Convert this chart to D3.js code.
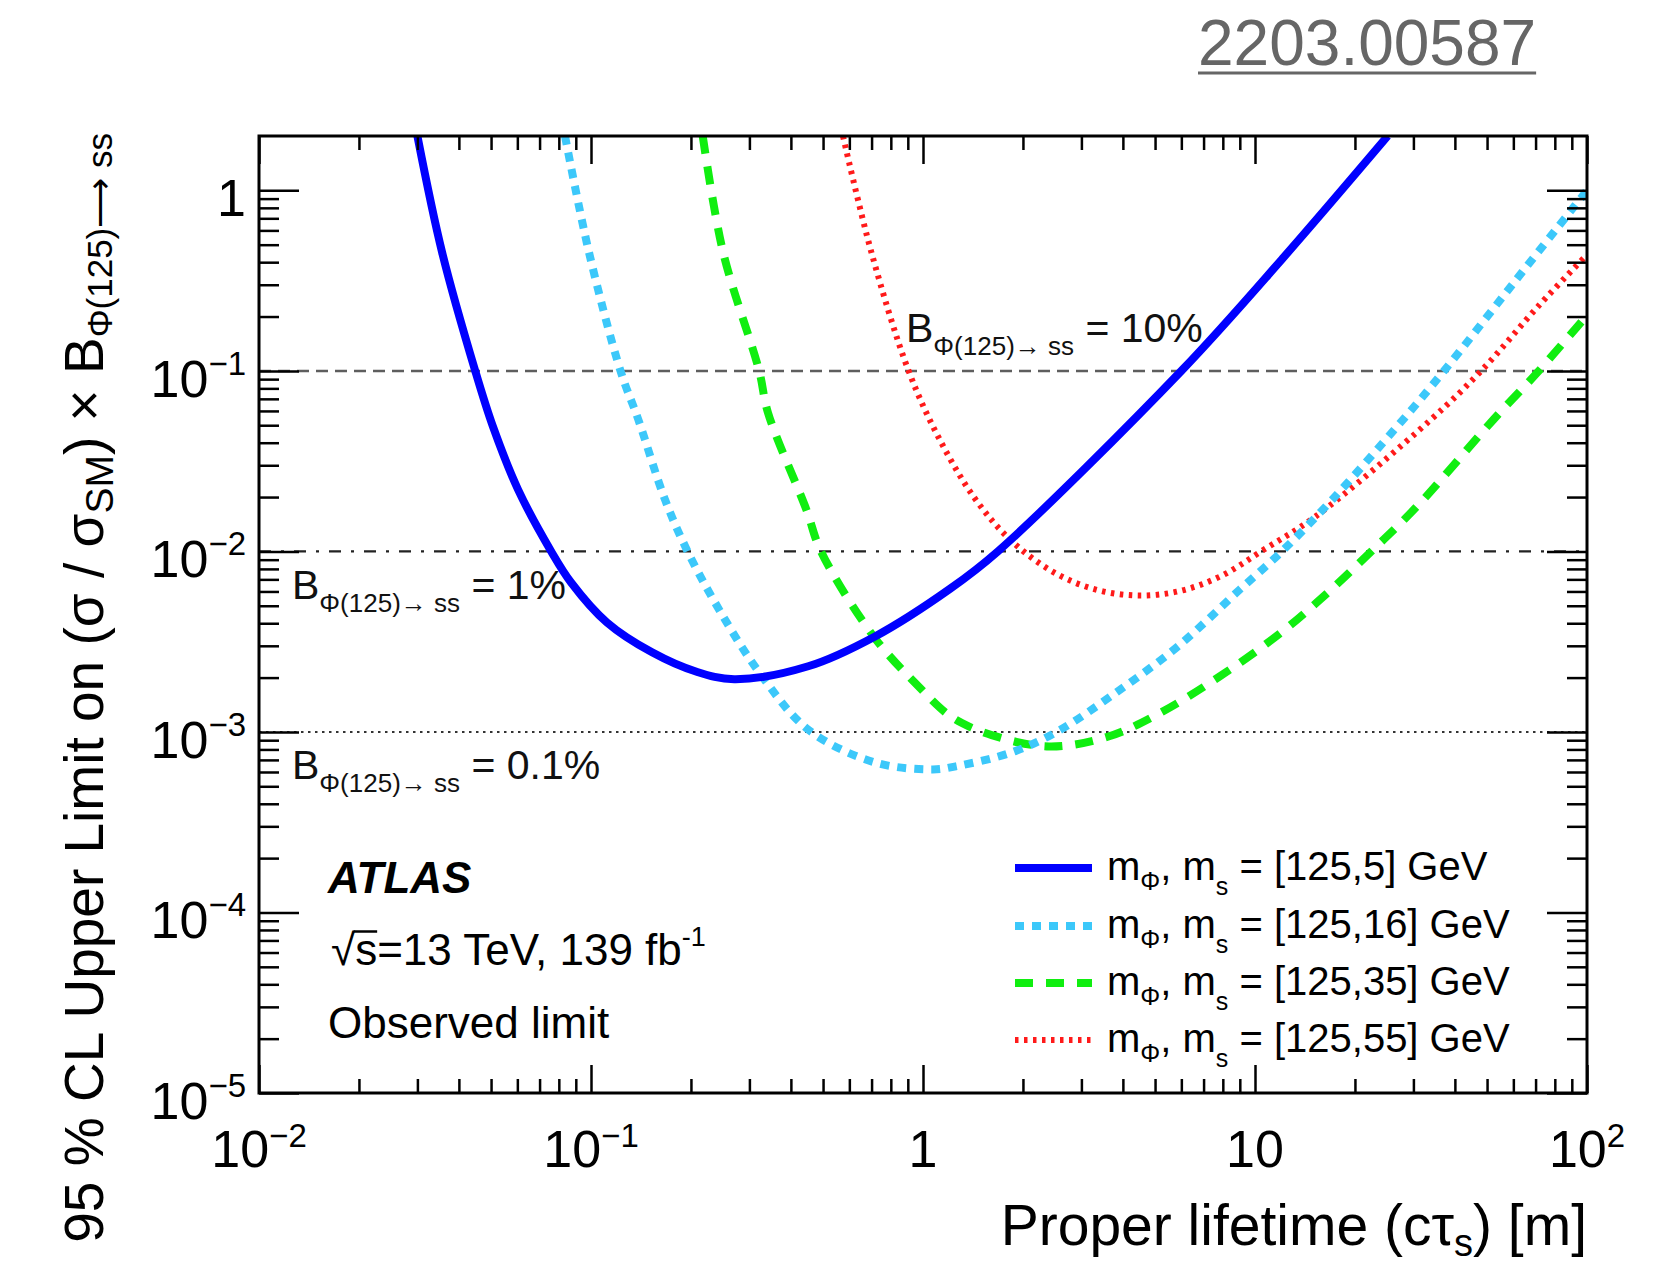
<!DOCTYPE html>
<html>
<head>
<meta charset="utf-8">
<script src="https://cdn.jsdelivr.net/npm/d3@7"></script>
<style>
  body { margin: 0; background: #fff; }
  svg { display: block; font-family: "Liberation Sans", Arial, Helvetica, sans-serif; }
</style>
</head>
<body>
<div id="viz"></div>
<script>
// Canvas and frame geometry
const width = 1680;
const height = 1263;
const frame = {left: 259, right: 1587, top: 136, bottom: 1093};

// Axis ranges and tick labels
const xDomain = [0.01, 100];
const yDomain = [1e-5, 2];
const xMajorTicks = [0.01, 0.1, 1, 10, 100];
const xTickBase = ["10", "10", "1", "10", "10"];
const xTickExp = ["\u22122", "\u22121", "", "", "2"];
const yMajorTicks = [1e-5, 1e-4, 1e-3, 1e-2, 1e-1, 1];
const yTickBase = ["10", "10", "10", "10", "10", "1"];
const yTickExp = ["\u22125", "\u22124", "\u22123", "\u22122", "\u22121", ""];

// Observed limits (x = c*tau in m)
const blueX = [0.0300, 0.0356, 0.0448, 0.0507, 0.0603, 0.0759, 0.0871, 0.1117, 0.1527, 0.207, 0.27, 0.451, 0.717, 1.205, 1.68, 6.0, 12.05, 25.1];
const blueY = [2.0, 0.454, 0.100, 0.0489, 0.0220, 0.0100, 0.00673, 0.00404, 0.00276, 0.00216, 0.00196, 0.00231, 0.00338, 0.0062, 0.0100, 0.100, 0.415, 2.0];

const cyanX = [0.0835, 0.0986, 0.1227, 0.1388, 0.167, 0.1954, 0.243, 0.321, 0.451, 0.716, 1.07, 1.256, 1.85, 2.55, 3.81, 5.86, 9.01, 12.05, 17.1, 27.0, 37.1, 60.3, 100];
const cyanY = [2.0, 0.454, 0.100, 0.0538, 0.0194, 0.0100, 0.00477, 0.00214, 0.00103, 0.000678, 0.00062, 0.000645, 0.00077, 0.00101, 0.00165, 0.00298, 0.00616, 0.0100, 0.0194, 0.0500, 0.100, 0.309, 1.0];

const greenX = [0.217, 0.250, 0.321, 0.341, 0.445, 0.493, 0.717, 0.98, 1.17, 1.31, 1.61, 2.40, 3.60, 5.08, 7.83, 12.0, 16.6, 22.4, 30.8, 52.3, 71.6, 90.2, 97];
const greenY = [2.0, 0.454, 0.100, 0.0589, 0.0171, 0.0100, 0.0033, 0.00175, 0.00128, 0.00112, 0.00096, 0.00083, 0.00094, 0.00125, 0.00203, 0.00356, 0.00593, 0.0100, 0.0178, 0.0538, 0.100, 0.163, 0.19];

const redX = [0.574, 0.70, 0.905, 1.12, 1.44, 1.85, 2.48, 3.30, 4.40, 5.86, 7.85, 10.7, 15.2, 33.9, 48, 71.6, 100];
const redY = [2.0, 0.45, 0.100, 0.042, 0.0194, 0.0114, 0.00765, 0.00616, 0.0057, 0.0060, 0.00726, 0.0103, 0.0156, 0.0538, 0.100, 0.23, 0.44];

const seriesMasses = ["5", "16", "35", "55"];

// Branching-ratio reference lines
const brLevels = [0.1, 0.01, 0.001];
const brLabels = ["10%", "1%", "0.1%"];

// Styles
const seriesStyle = [
  {color: "#0000ff", width: 8, dash: null},
  {color: "#3cc8fa", width: 8, dash: "9,8"},
  {color: "#10ee10", width: 8, dash: "18,13"},
  {color: "#ff1a1a", width: 6, dash: "3.5,5.5"}
];
const brStyle = [
  {color: "#5e5e5e", width: 2.5, dash: "12,7"},
  {color: "#222", width: 2.2, dash: "12,10,3,10"},
  {color: "#333", width: 2, dash: "2.5,4.5"}
];

const svg = d3.select("#viz").append("svg")
  .attr("width", width)
  .attr("height", height);

const x = d3.scaleLog().domain(xDomain).range([frame.left, frame.right]);
const y = d3.scaleLog().domain(yDomain).range([frame.bottom, frame.top]);

svg.append("clipPath").attr("id", "plotClip")
  .append("rect")
  .attr("x", frame.left).attr("y", frame.top)
  .attr("width", frame.right - frame.left)
  .attr("height", frame.bottom - frame.top);

// Reference lines
brLevels.forEach((lev, i) => {
  svg.append("line")
    .attr("x1", frame.left).attr("x2", frame.right)
    .attr("y1", y(lev)).attr("y2", y(lev))
    .attr("stroke", brStyle[i].color)
    .attr("stroke-width", brStyle[i].width)
    .attr("stroke-dasharray", brStyle[i].dash);
});

// Curves
const lineGen = d3.line()
  .x(d => x(d[0]))
  .y(d => y(d[1]))
  .curve(d3.curveCatmullRom.alpha(0.5));

const seriesData = [
  d3.zip(blueX, blueY),
  d3.zip(cyanX, cyanY),
  d3.zip(greenX, greenY),
  d3.zip(redX, redY)
];

const curves = svg.append("g").attr("clip-path", "url(#plotClip)");
// red first, blue last (on top)
[3, 2, 1, 0].forEach(i => {
  curves.append("path")
    .attr("d", lineGen(seriesData[i]))
    .attr("fill", "none")
    .attr("stroke", seriesStyle[i].color)
    .attr("stroke-width", seriesStyle[i].width)
    .attr("stroke-dasharray", seriesStyle[i].dash);
});

// Ticks on all four sides
const xMinor = [];
const yMinor = [];
[-2, -1, 0, 1].forEach(e => { for (let k = 2; k <= 9; k++) xMinor.push(k * Math.pow(10, e)); });
[-5, -4, -3, -2, -1].forEach(e => { for (let k = 2; k <= 9; k++) yMinor.push(k * Math.pow(10, e)); });

function tickAxis(axisFn, scale, values, size, transform) {
  const g = svg.append("g")
    .attr("transform", transform)
    .call(axisFn(scale).tickValues(values).tickSize(size).tickFormat(""));
  g.select(".domain").remove();
  g.selectAll(".tick line").attr("stroke", "#000").attr("stroke-width", 2.5);
}
const xMajorLen = 28, xMinorLen = 14, yMajorLen = 40, yMinorLen = 20;
tickAxis(d3.axisTop, x, xMajorTicks, xMajorLen, `translate(0,${frame.bottom})`);
tickAxis(d3.axisTop, x, xMinor, xMinorLen, `translate(0,${frame.bottom})`);
tickAxis(d3.axisBottom, x, xMajorTicks, xMajorLen, `translate(0,${frame.top})`);
tickAxis(d3.axisBottom, x, xMinor, xMinorLen, `translate(0,${frame.top})`);
tickAxis(d3.axisRight, y, yMajorTicks, yMajorLen, `translate(${frame.left},0)`);
tickAxis(d3.axisRight, y, yMinor, yMinorLen, `translate(${frame.left},0)`);
tickAxis(d3.axisLeft, y, yMajorTicks, yMajorLen, `translate(${frame.right},0)`);
tickAxis(d3.axisLeft, y, yMinor, yMinorLen, `translate(${frame.right},0)`);

// Frame
svg.append("rect")
  .attr("x", frame.left).attr("y", frame.top)
  .attr("width", frame.right - frame.left)
  .attr("height", frame.bottom - frame.top)
  .attr("fill", "none")
  .attr("stroke", "#000")
  .attr("stroke-width", 3);

// Tick labels
const labelSize = 52, expSize = 33;
xMajorTicks.forEach((v, i) => {
  const t = svg.append("text")
    .attr("x", x(v)).attr("y", 1167)
    .attr("text-anchor", "middle")
    .attr("font-size", labelSize);
  t.append("tspan").text(xTickBase[i]);
  if (xTickExp[i]) t.append("tspan").attr("font-size", expSize).attr("dy", -20).text(xTickExp[i]);
});
yMajorTicks.forEach((v, i) => {
  const t = svg.append("text")
    .attr("x", 246).attr("y", y(v) + 26)
    .attr("text-anchor", "end")
    .attr("font-size", labelSize);
  t.append("tspan").text(yTickBase[i]);
  if (yTickExp[i]) t.append("tspan").attr("font-size", expSize).attr("dy", -22).text(yTickExp[i]);
});

// Axis titles
const xt = svg.append("text")
  .attr("x", frame.right).attr("y", 1245)
  .attr("text-anchor", "end")
  .attr("font-size", 57);
xt.append("tspan").text("Proper lifetime (c\u03c4");
xt.append("tspan").attr("font-size", 38).attr("dy", 11).text("s");
xt.append("tspan").attr("dy", -11).text(") [m]");

const yt = svg.append("text")
  .attr("transform", `translate(103,133) rotate(-90)`)
  .attr("text-anchor", "end")
  .attr("font-size", 55);
yt.append("tspan").text("95 % CL Upper Limit on (\u03c3 / \u03c3");
yt.append("tspan").attr("font-size", 39).attr("dy", 10).text("SM");
yt.append("tspan").attr("dy", -10).text(") \u00d7 B");
yt.append("tspan").attr("font-size", 35).attr("dy", 9).text("\u03a6(125)\u27f6 ss");

// Branching ratio labels
const brPos = [[906, 342], [292, 599], [292, 779]];
brLevels.forEach((lev, i) => {
  const t = svg.append("text")
    .attr("x", brPos[i][0]).attr("y", brPos[i][1])
    .attr("font-size", 41)
    .attr("fill", "#111");
  t.append("tspan").text("B");
  t.append("tspan").attr("font-size", 26).attr("dy", 13).text("\u03a6(125)\u2192 ss");
  t.append("tspan").attr("dy", -13).text(" = " + brLabels[i]);
});

// ATLAS label block
svg.append("text")
  .attr("x", 328).attr("y", 893)
  .attr("font-size", 44)
  .attr("font-weight", "bold")
  .attr("font-style", "italic")
  .text("ATLAS");
const en = svg.append("text")
  .attr("x", 331).attr("y", 965)
  .attr("font-size", 44);
en.append("tspan").text("\u221as=13 TeV, 139 fb");
en.append("tspan").attr("font-size", 27).attr("dy", -19).text("-1");
// overline of the square root over "s"
const enNode = en.node();
const rootEnd = enNode.getEndPositionOfChar(0).x;
const sEnd = enNode.getEndPositionOfChar(1).x;
svg.append("line")
  .attr("x1", rootEnd - 1.5).attr("x2", sEnd)
  .attr("y1", 931.5).attr("y2", 931.5)
  .attr("stroke", "#000")
  .attr("stroke-width", 2.5);
svg.append("text")
  .attr("x", 328).attr("y", 1038)
  .attr("font-size", 44)
  .text("Observed limit");

// Legend
const legendY = [868, 926, 983, 1040];
seriesMasses.forEach((m, i) => {
  svg.append("line")
    .attr("x1", 1015).attr("x2", 1092)
    .attr("y1", legendY[i]).attr("y2", legendY[i])
    .attr("stroke", seriesStyle[i].color)
    .attr("stroke-width", seriesStyle[i].width)
    .attr("stroke-dasharray", seriesStyle[i].dash);
  const t = svg.append("text")
    .attr("x", 1107).attr("y", legendY[i] + 12)
    .attr("font-size", 40);
  t.append("tspan").text("m");
  t.append("tspan").attr("font-size", 25).attr("dy", 10).text("\u03a6");
  t.append("tspan").attr("dy", -10).text(", m");
  t.append("tspan").attr("font-size", 25).attr("dy", 15).text("s");
  t.append("tspan").attr("dy", -15).text(" = [125," + m + "] GeV");
});

// arXiv reference
const ref = svg.append("text")
  .attr("x", 1198).attr("y", 65)
  .attr("font-size", 64)
  .attr("fill", "#666")
  .text("2203.00587");
const bb = ref.node().getBBox();
svg.append("line")
  .attr("x1", bb.x).attr("x2", bb.x + bb.width)
  .attr("y1", 73).attr("y2", 73)
  .attr("stroke", "#666")
  .attr("stroke-width", 3);
</script>
</body>
</html>
